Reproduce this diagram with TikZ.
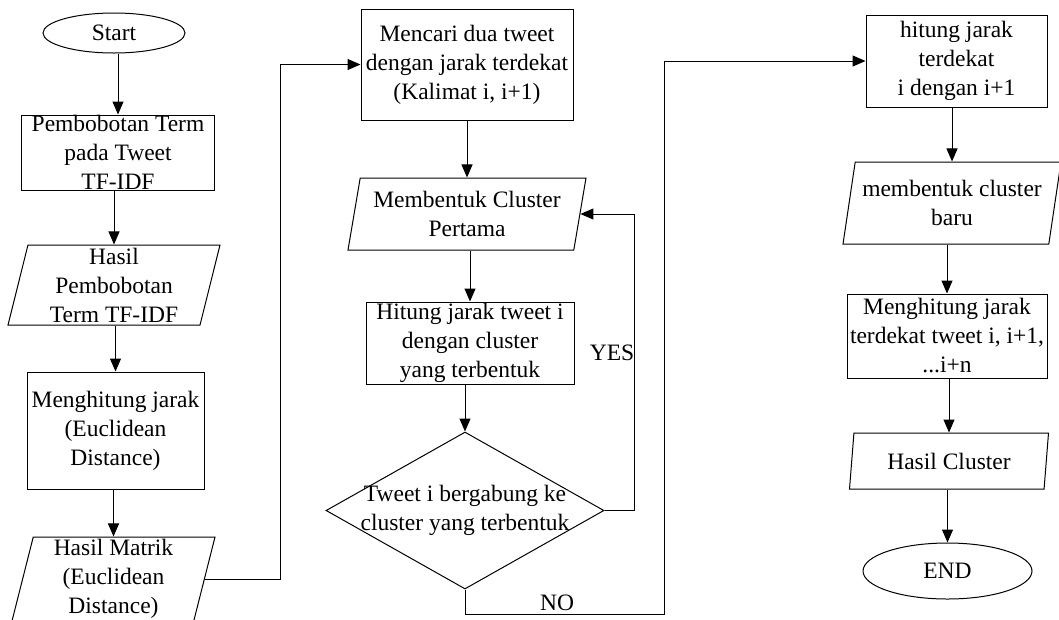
\documentclass[tikz,border=0pt]{standalone}
\usepackage{fontspec}
\setmainfont{Liberation Serif}
\usetikzlibrary{shapes.geometric, arrows.meta}

\begin{document}
\begin{tikzpicture}[x={(1pt, 0pt)}, y={(0pt, -1pt)}, line width=1pt,
    font=\fontsize{23.5}{29}\selectfont,
    proses/.style={draw, rectangle, align=center, inner sep=0pt},
    data/.style={draw, trapezium, trapezium left angle=75, trapezium right angle=105,
      trapezium stretches body, align=center, inner sep=0pt},
    ujung/.style={draw, ellipse, inner sep=0pt},
    panah/.style={-{Triangle[length=13pt, width=11pt]}}]
  \useasboundingbox (0, 0) rectangle (1059, 619);

  \node[ujung, minimum width=142, minimum height=40] (start) at (114, 33) {Start};
  \node[proses, minimum width=193, minimum height=75] (tfidf) at (118, 152.5)
    {Pembobotan Term\\pada Tweet\\TF-IDF};
  \node[data, minimum width=212, minimum height=80] (hasilbobot) at (114, 285)
    {Hasil\\Pembobotan\\Term TF-IDF};
  \node[proses, minimum width=177, minimum height=117] (jarak) at (115.5, 430.5)
    {Menghitung jarak\\(Euclidean\\Distance)};
  \node[data, minimum width=203, minimum height=84] (matrik) at (113.5, 579)
    {Hasil Matrik\\(Euclidean\\Distance)};

  \node[proses, minimum width=212, minimum height=111] (mencari) at (467, 64.5)
    {Mencari dua tweet\\dengan jarak terdekat\\(Kalimat i, i+1)};
  \node[data, minimum width=238, minimum height=72] (pertama) at (467, 214)
    {Membentuk Cluster\\Pertama};
  \node[proses, minimum width=208, minimum height=82] (hitung) at (470, 343)
    {Hitung jarak tweet i\\dengan cluster\\yang terbentuk};
  \node[draw, diamond, minimum width=278, minimum height=157, inner sep=0pt,
    label={[align=center]center:{Tweet i bergabung ke\\cluster yang terbentuk}}]
    (gabung) at (465, 510.5) {};

  \node[proses, minimum width=181, minimum height=92] (terdekat) at (956.5, 61)
    {hitung jarak\\terdekat\\i dengan i+1};
  \node[data, minimum width=218, minimum height=82] (baru) at (952, 203)
    {membentuk cluster\\baru};
  \node[proses, minimum width=200, minimum height=84] (menghitung) at (947, 336)
    {Menghitung jarak\\terdekat tweet i, i+1,\\...i+n};
  \node[data, minimum width=199, minimum height=56] (hasil) at (949, 461) {Hasil Cluster};
  \node[ujung, minimum width=169, minimum height=56] (stop) at (947.5, 571) {END};

  \foreach \a/\b in {start/tfidf, tfidf/hasilbobot, hasilbobot/jarak, jarak/matrik,
                     mencari/pertama, pertama/hitung, hitung/gabung,
                     terdekat/baru, baru/menghitung, menghitung/hasil, hasil/stop} {
    \draw[panah] (\a.south -| \b.north) to (\b.north);
  }

  \coordinate (naik) at (280, 0);
  \draw[panah] (matrik.east) to (matrik.east -| naik) to (naik |- mencari.west) to (mencari.west);

  \coordinate (ya) at (634, 0);
  \draw[panah] (gabung.east) to (gabung.east -| ya) to (ya |- pertama.east) to (pertama.east);
  \node (yes) at (612, 353) {YES};

  \coordinate (tidak) at (664, 614);
  \draw[panah] (gabung.south) to (gabung.south |- tidak) to (tidak) to (tidak |- terdekat.west)
    to (terdekat.west);
  \node (no) at (557, 603) {NO};
\end{tikzpicture}
\end{document}
